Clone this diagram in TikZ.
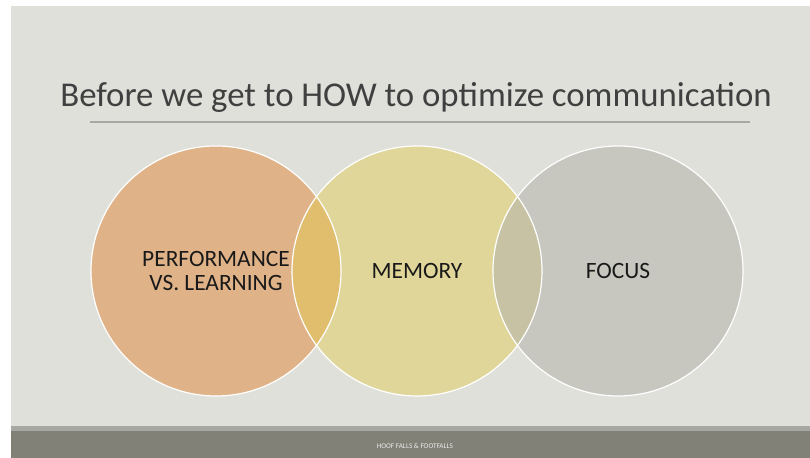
\documentclass[tikz,border=0pt]{standalone}
\usepackage{fontspec}
\setmainfont{Carlito}
\usepackage{tikz}
\definecolor{slideBg}{RGB}{224,224,218}
\definecolor{titleGray}{RGB}{64,64,64}
\definecolor{ruleGray}{RGB}{168,168,160}
\definecolor{tanFill}{RGB}{224,178,136}
\definecolor{sandFill}{RGB}{224,214,153}
\definecolor{stoneFill}{RGB}{199,199,192}
\definecolor{lensWarm}{RGB}{224,190,110}
\definecolor{lensCool}{RGB}{198,194,163}
\definecolor{barLight}{RGB}{168,168,163}
\definecolor{barDark}{RGB}{129,129,120}
\newcommand{\ringR}{62.5pt}

\begin{document}
\begin{tikzpicture}[x=0.5pt,y=-0.5pt,
  ring/.style={circle,minimum size=125pt,inner sep=0pt},
  ringlabel/.style={align=center,text=black!90,font=\fontsize{11.7}{12}\selectfont}]
\useasboundingbox (0,0) rectangle (810,458);
\fill[white] (0,0) rectangle (810,458);
\fill[slideBg] (11,6) rectangle (810,426);
% footer bars
\fill[barLight] (11,426) rectangle (810,431);
\fill[barDark] (11,431) rectangle (810,458);
\node[text=white!85!barDark,font=\fontsize{3.6}{4}\selectfont] (footer) at (415,446) {HOOF FALLS \& FOOTFALLS};
% title and rule
\node[text=titleGray,font=\fontsize{17.4}{21}\selectfont,anchor=base] (title) at (416,107) {Before we get to HOW to optimize communication};
\coordinate (ruleL) at (90,122);
\coordinate (ruleR) at (750,122);
\draw[ruleGray,line width=0.8pt] (ruleL) -- (ruleR);
% three circles
\node[ring,fill=tanFill] (perf) at (216,271) {};
\node[ring,fill=sandFill] (memory) at (417,271) {};
\node[ring,fill=stoneFill] (focus) at (618,271) {};
% overlaps
\begin{scope}
  \clip (perf.center) circle (\ringR);
  \fill[lensWarm] (memory.center) circle (\ringR);
\end{scope}
\begin{scope}
  \clip (memory.center) circle (\ringR);
  \fill[lensCool] (focus.center) circle (\ringR);
\end{scope}
\foreach \c in {perf,memory,focus}
  \draw[white,line width=0.6pt] (\c.center) circle (\ringR);
% labels
\node[ringlabel] (perfText) at (perf.center) {PERFORMANCE\\VS. LEARNING};
\node[ringlabel] (memoryText) at (memory.center) {MEMORY};
\node[ringlabel] (focusText) at (focus.center) {FOCUS};
\end{tikzpicture}
\end{document}
